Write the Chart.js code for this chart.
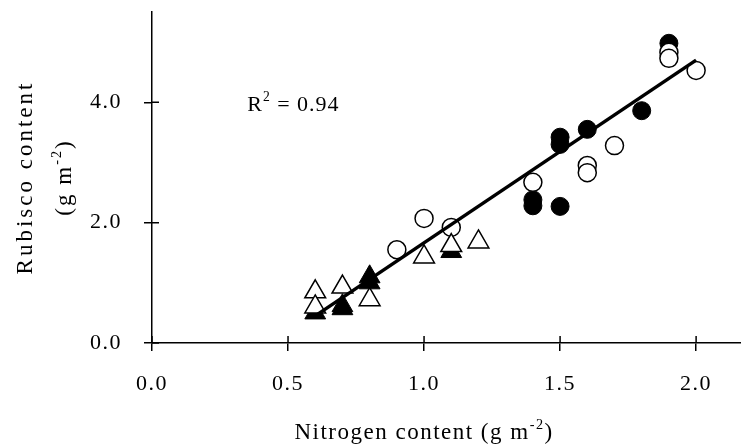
<!DOCTYPE html>
<html>
<head>
<meta charset="utf-8">
<script src="https://cdn.jsdelivr.net/npm/chart.js@4.4.0/dist/chart.umd.min.js"></script>
<style>
  html, body { margin: 0; padding: 0; background: #fff; }
</style>
</head>
<body>
<canvas id="chart" width="741" height="445"></canvas>
<script>
// nitrogen (x) / rubisco (y) content, g m-2
const filledCircleN = [1.4, 1.4, 1.5, 1.5, 1.5, 1.6, 1.8, 1.9];
const filledCircleR = [2.38, 2.28, 3.42, 3.30, 2.27, 3.55, 3.86, 4.98];
const openCircleN = [0.9, 1.0, 1.1, 1.4, 1.6, 1.6, 1.7, 1.9, 1.9, 2.0];
const openCircleR = [1.55, 2.07, 1.92, 2.67, 2.95, 2.83, 3.28, 4.83, 4.73, 4.53];
const filledTriN = [0.6, 0.7, 0.7, 0.8, 0.8, 1.1];
const filledTriR = [0.50, 0.57, 0.62, 1.00, 1.10, 1.52];
const openTriN = [0.6, 0.6, 0.7, 0.8, 1.0, 1.1, 1.2];
const openTriR = [0.85, 0.60, 0.93, 0.72, 1.43, 1.62, 1.68];
const fitN = [0.6, 2.0];
const fitR = [0.45, 4.70];

const xTicks = [0, 0.5, 1.0, 1.5, 2.0];
const yTicks = [0, 2, 4];
const r2Text = '0.94';

const SERIF = '"Liberation Serif", "Times New Roman", serif';
const pts = (xs, ys) => xs.map((x, i) => ({ x, y: ys[i] }));

// draw text pieces centred on (x, y), some raised as superscripts
function drawRich(ctx, parts, x, y, size, spacing, rotate) {
  ctx.save();
  ctx.translate(x, y);
  if (rotate) ctx.rotate(-Math.PI / 2);
  ctx.letterSpacing = spacing + 'px';
  ctx.textBaseline = 'alphabetic';
  ctx.fillStyle = '#000';
  let total = 0;
  parts.forEach(p => {
    ctx.font = (p.sup ? size * 0.62 : size) + 'px ' + SERIF;
    total += ctx.measureText(p.t).width;
  });
  let cx = -total / 2;
  parts.forEach(p => {
    ctx.font = (p.sup ? size * 0.62 : size) + 'px ' + SERIF;
    ctx.fillText(p.t, cx, size * 0.33 - (p.sup ? size * 0.42 : 0));
    cx += ctx.measureText(p.t).width;
  });
  ctx.restore();
  return total;
}

function richWidth(ctx, parts, size, spacing) {
  ctx.save();
  ctx.letterSpacing = spacing + 'px';
  let w = 0;
  parts.forEach(p => {
    ctx.font = (p.sup ? size * 0.62 : size) + 'px ' + SERIF;
    w += ctx.measureText(p.t).width;
  });
  ctx.restore();
  return w;
}

const textPlugin = {
  id: 'textPlugin',
  beforeDraw(chart) {
    chart.ctx.letterSpacing = '1.5px';
  },
  beforeDatasetsDraw(chart) {
    // inner half of the tick marks (they cross the axes)
    const { ctx, scales: { x, y } } = chart;
    ctx.save();
    ctx.strokeStyle = '#000';
    ctx.lineWidth = 1.5;
    ctx.beginPath();
    x.ticks.forEach((t, i) => {
      const px = x.getPixelForTick(i);
      ctx.moveTo(px, x.top);
      ctx.lineTo(px, x.top - 7);
    });
    y.ticks.forEach((t, i) => {
      const py = y.getPixelForTick(i);
      ctx.moveTo(y.right, py);
      ctx.lineTo(y.right + 7, py);
    });
    ctx.stroke();
    ctx.restore();
  },
  afterDraw(chart) {
    const { ctx, scales: { x, y }, chartArea } = chart;
    drawRich(ctx, [{ t: 'Nitrogen content (g m' }, { t: '-2', sup: true }, { t: ')' }],
      x.getPixelForValue(1.0), 431, 23, 1.5, false);
    const cy = (chartArea.top + chartArea.bottom) / 2;
    drawRich(ctx, [{ t: 'Rubisco content' }], 24, cy, 23, 3, true);
    drawRich(ctx, [{ t: '(g m' }, { t: '-2', sup: true }, { t: ')' }], 63, cy, 23, 2, true);
    // R² label, left edge at a data position
    const parts = [{ t: 'R' }, { t: '2', sup: true }, { t: ' = ' + r2Text }];
    const w = richWidth(ctx, parts, 22, 1);
    drawRich(ctx, parts, x.getPixelForValue(0.35) + w / 2, y.getPixelForValue(3.98), 22, 1, false);
  }
};

const tickStyle = { color: '#000', font: { family: SERIF, size: 22 } };

new Chart(document.getElementById('chart'), {
  type: 'scatter',
  data: {
    datasets: [
      {
        type: 'line', data: pts(fitN, fitR), order: 0,
        borderColor: '#000', borderWidth: 3.5, pointRadius: 0, fill: false,
      },
      {
        data: pts(openTriN, openTriR), order: 1, pointStyle: 'triangle', pointRadius: 12,
        backgroundColor: '#fff', borderColor: '#000', borderWidth: 1.5,
      },
      {
        data: pts(openCircleN, openCircleR), order: 2, pointStyle: 'circle', pointRadius: 9,
        backgroundColor: '#fff', borderColor: '#000', borderWidth: 1.5,
      },
      {
        data: pts(filledTriN, filledTriR), order: 3, pointStyle: 'triangle', pointRadius: 12,
        backgroundColor: '#000', borderColor: '#000', borderWidth: 1,
      },
      {
        data: pts(filledCircleN, filledCircleR), order: 4, pointStyle: 'circle', pointRadius: 9,
        backgroundColor: '#000', borderColor: '#000', borderWidth: 1,
      },
    ],
  },
  options: {
    responsive: false,
    animation: false,
    layout: { autoPadding: false, padding: { top: 12, right: 0, left: 0, bottom: 0 } },
    plugins: { legend: { display: false }, tooltip: { enabled: false } },
    scales: {
      x: {
        type: 'linear', min: 0, max: 2.165,
        border: { display: true, color: '#000', width: 1.5 },
        grid: { display: true, drawOnChartArea: false, drawTicks: true, tickLength: 8, color: '#000', lineWidth: 1.5 },
        ticks: { ...tickStyle, padding: 20, stepSize: 0.5, includeBounds: false, callback: v => v.toFixed(1) },
        afterBuildTicks: s => { s.ticks = xTicks.map(v => ({ value: v })); },
        afterFit: s => { s.height = 102; s.paddingLeft = 0; s.paddingRight = 0; },
      },
      y: {
        type: 'linear', min: 0, max: 5.5,
        border: { display: true, color: '#000', width: 1.5 },
        grid: { display: true, drawOnChartArea: false, drawTicks: true, tickLength: 8, color: '#000', lineWidth: 1.5 },
        ticks: { ...tickStyle, padding: 22, stepSize: 2, includeBounds: false, callback: v => v.toFixed(1) },
        afterBuildTicks: s => { s.ticks = yTicks.map(v => ({ value: v })); },
        afterFit: s => { s.width = 152; s.paddingTop = 0; s.paddingBottom = 0; },
      },
    },
  },
  plugins: [textPlugin],
});
</script>
</body>
</html>
